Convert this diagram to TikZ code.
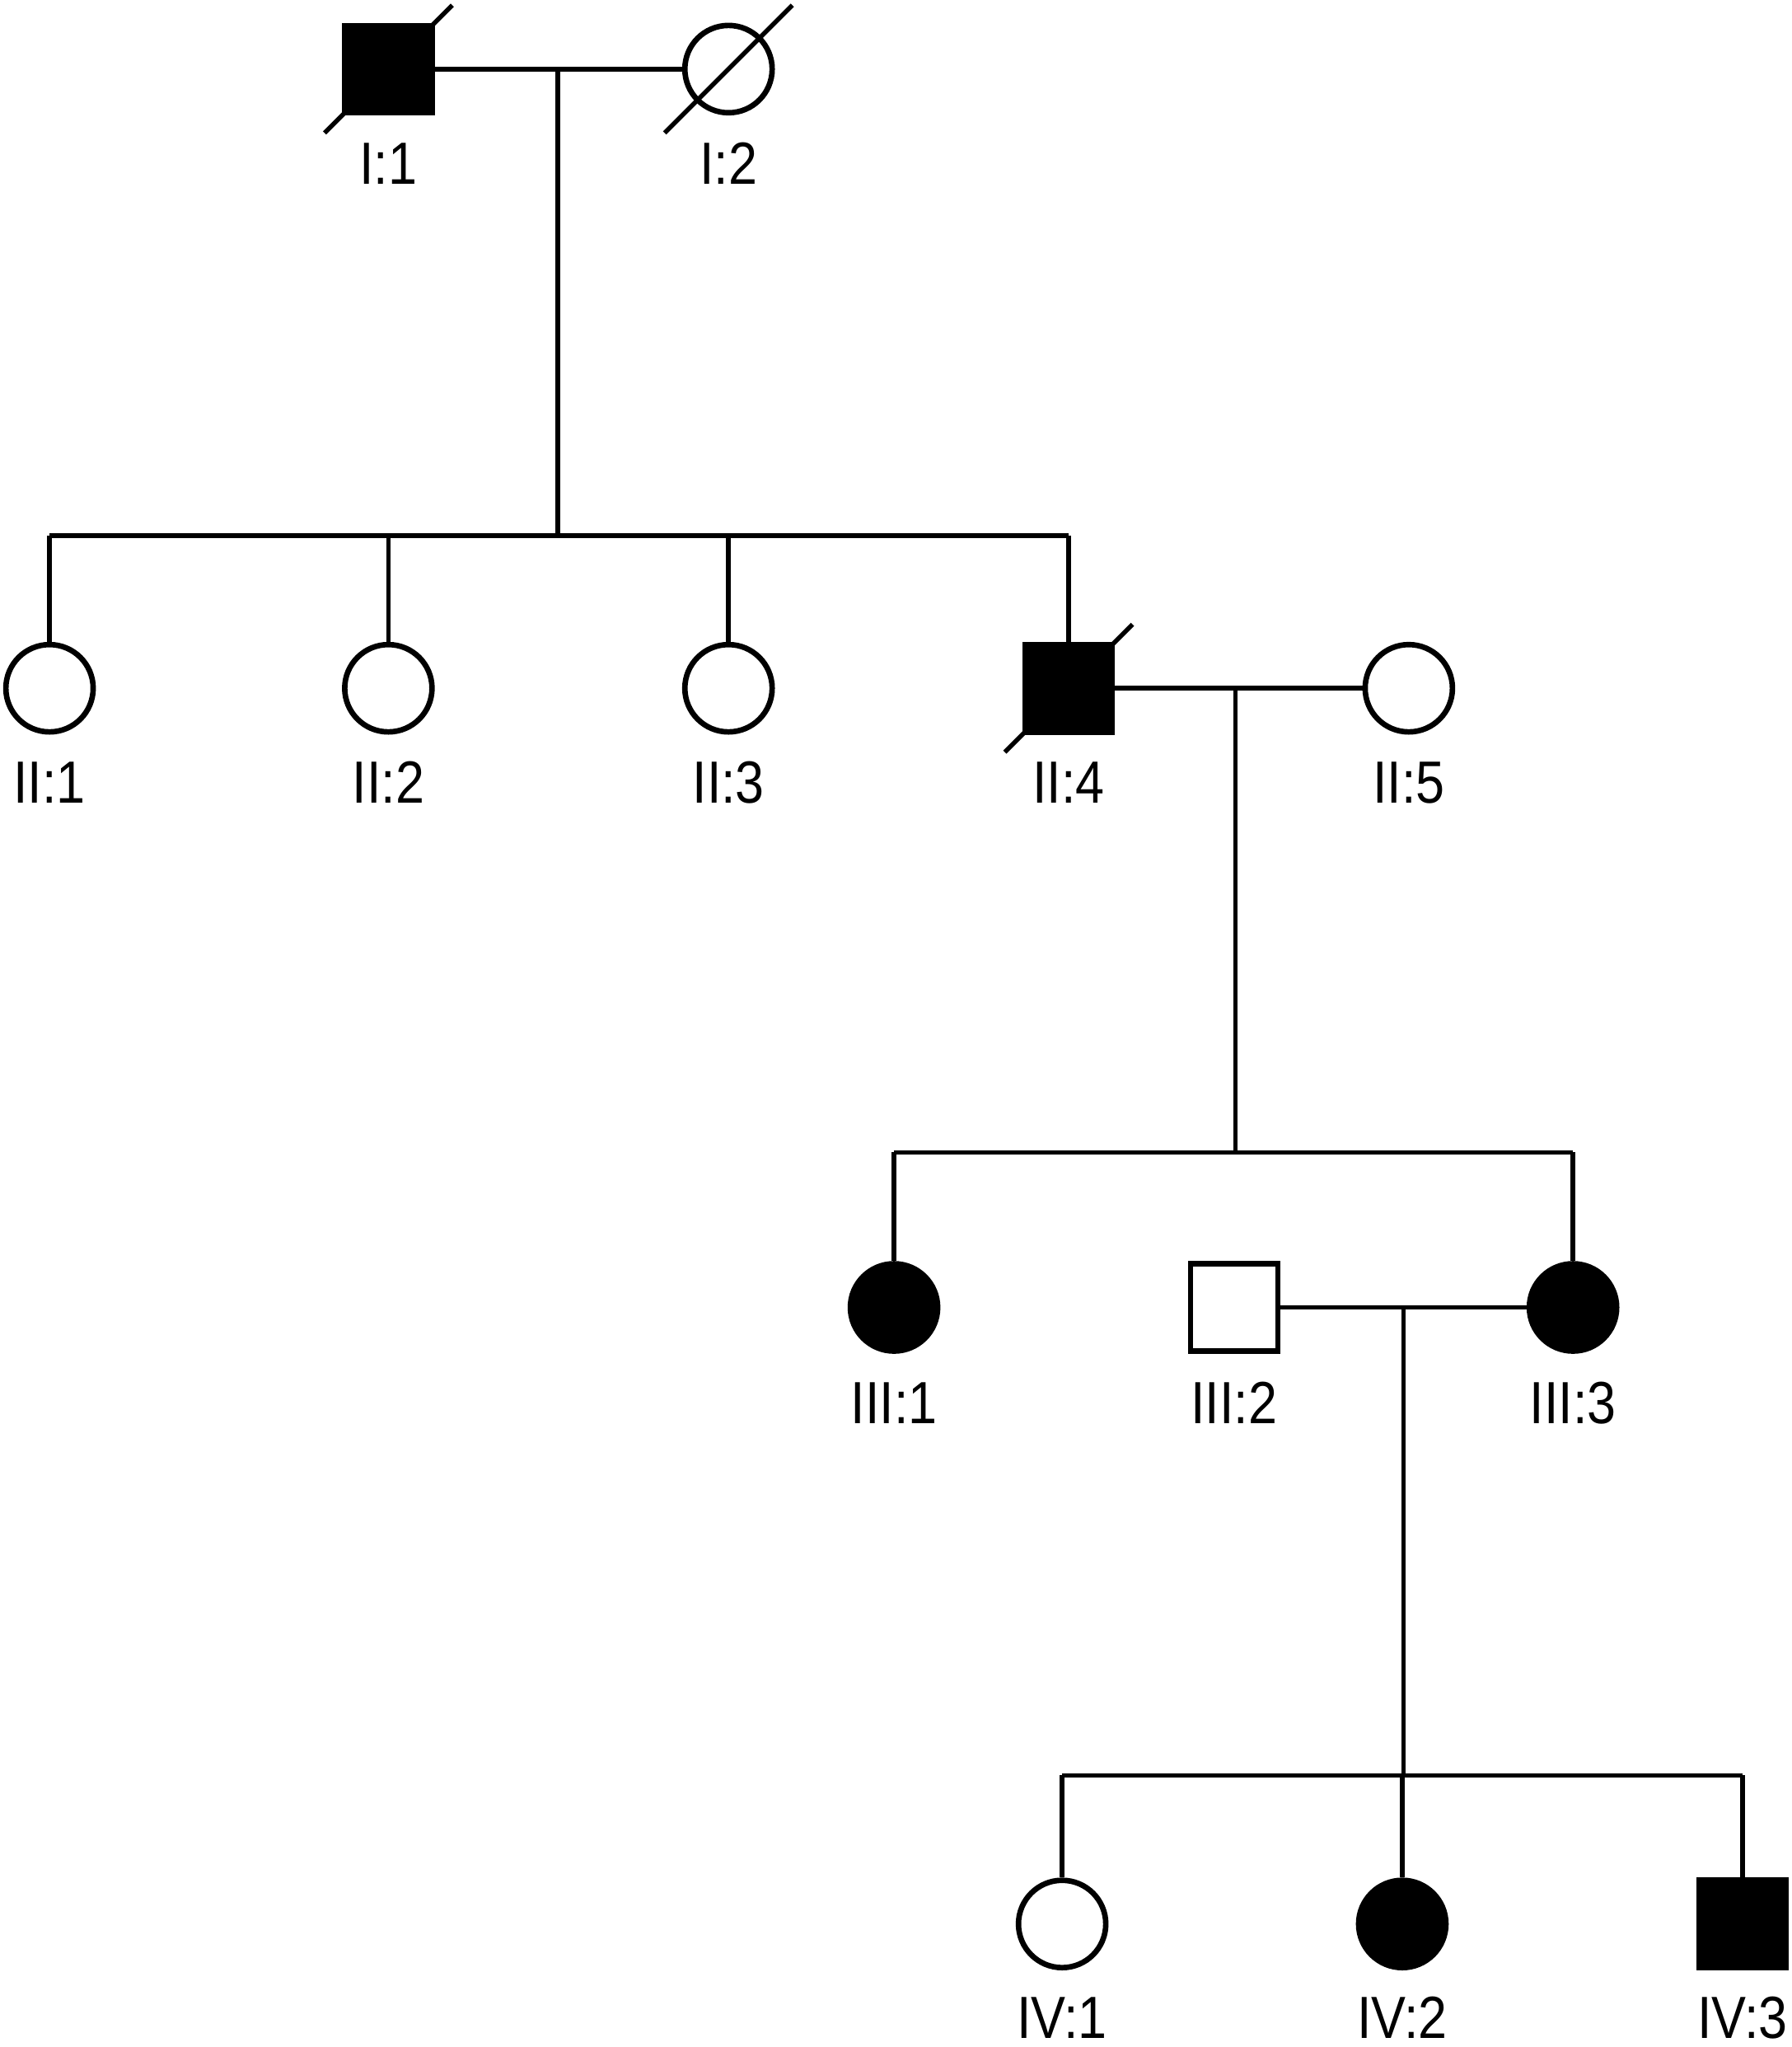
\documentclass[tikz,border=0pt]{standalone}
\usepackage{fontspec}
\setmainfont{Liberation Sans}
\begin{document}
\begin{tikzpicture}[x=0.1mm,y=-0.1mm,
  line/.style={line width=1pt},
  female/.style={circle,draw,line width=1.2pt,minimum size=6.7mm,inner sep=0pt},
  male/.style={rectangle,draw,line width=1.2pt,minimum size=6.7mm,inner sep=0pt},
  aff/.style={fill=black},
  lbl/.style={anchor=base,inner sep=0pt,font=\fontsize{13}{15}\selectfont},
  dead/.style={line width=1pt}]
\useasboundingbox (0,0) rectangle (1375,1570.4);
\newcommand{\lab}[1]{\scalebox{0.87}[1]{#1}}
\newcommand{\deadline}[1]{\draw[dead] ([shift={(-49,49)}]#1.center) -- ([shift={(49,-49)}]#1.center);}
% Generation I
\node[male,aff] (I1) at (298,53) {};
\node[female] (I2) at (559,53) {};
\node[lbl] (lI1) at (298,141) {\lab{I:1}};
\node[lbl] (lI2) at (559,141) {\lab{I:2}};
\deadline{I1}
\deadline{I2}
% Generation II
\node[female] (II1) at (38,528) {};
\node[female] (II2) at (298,528) {};
\node[female] (II3) at (559,528) {};
\node[male,aff] (II4) at (820,528) {};
\node[female] (II5) at (1081,528) {};
\deadline{II4}
\node[lbl] (lII1) at (38,616) {\lab{II:1}};
\node[lbl] (lII2) at (298,616) {\lab{II:2}};
\node[lbl] (lII3) at (559,616) {\lab{II:3}};
\node[lbl] (lII4) at (820,616) {\lab{II:4}};
\node[lbl] (lII5) at (1081,616) {\lab{II:5}};
% Generation III
\node[female,aff] (III1) at (686,1003) {};
\node[male] (III2) at (947,1003) {};
\node[female,aff] (III3) at (1207,1003) {};
\node[lbl] (lIII1) at (686,1092) {\lab{III:1}};
\node[lbl] (lIII2) at (947,1092) {\lab{III:2}};
\node[lbl] (lIII3) at (1207,1092) {\lab{III:3}};
% Generation IV
\node[female] (IV1) at (815,1476) {};
\node[female,aff] (IV2) at (1076,1476) {};
\node[male,aff] (IV3) at (1337,1476) {};
\node[lbl] (lIV1) at (815,1564) {\lab{IV:1}};
\node[lbl] (lIV2) at (1076,1564) {\lab{IV:2}};
\node[lbl] (lIV3) at (1337,1564) {\lab{IV:3}};
% Coordinates
\coordinate (m1) at (428,53);
\coordinate (s1) at (428,411);
\coordinate (m2) at (948,528);
\coordinate (s2) at (948,884);
\coordinate (m3) at (1077,1003);
\coordinate (s3) at (1077,1362);
% Family I
\draw[line] (I1.east) -- (I2.west);
\draw[line] (m1) -- (s1);
\draw[line] (II1.north |- s1) -- (II4.north |- s1);
\foreach \c in {II1,II2,II3,II4} \draw[line] (\c.north |- s1) -- (\c.north);
% Family II
\draw[line] (II4.east) -- (II5.west);
\draw[line] (m2) -- (s2);
\draw[line] (III1.north |- s2) -- (III3.north |- s2);
\foreach \c in {III1,III3} \draw[line] (\c.north |- s2) -- (\c.north);
% Family III
\draw[line] (III2.east) -- (III3.west);
\draw[line] (m3) -- (s3);
\draw[line] (IV1.north |- s3) -- (IV3.north |- s3);
\foreach \c in {IV1,IV2,IV3} \draw[line] (\c.north |- s3) -- (\c.north);
\end{tikzpicture}
\end{document}
